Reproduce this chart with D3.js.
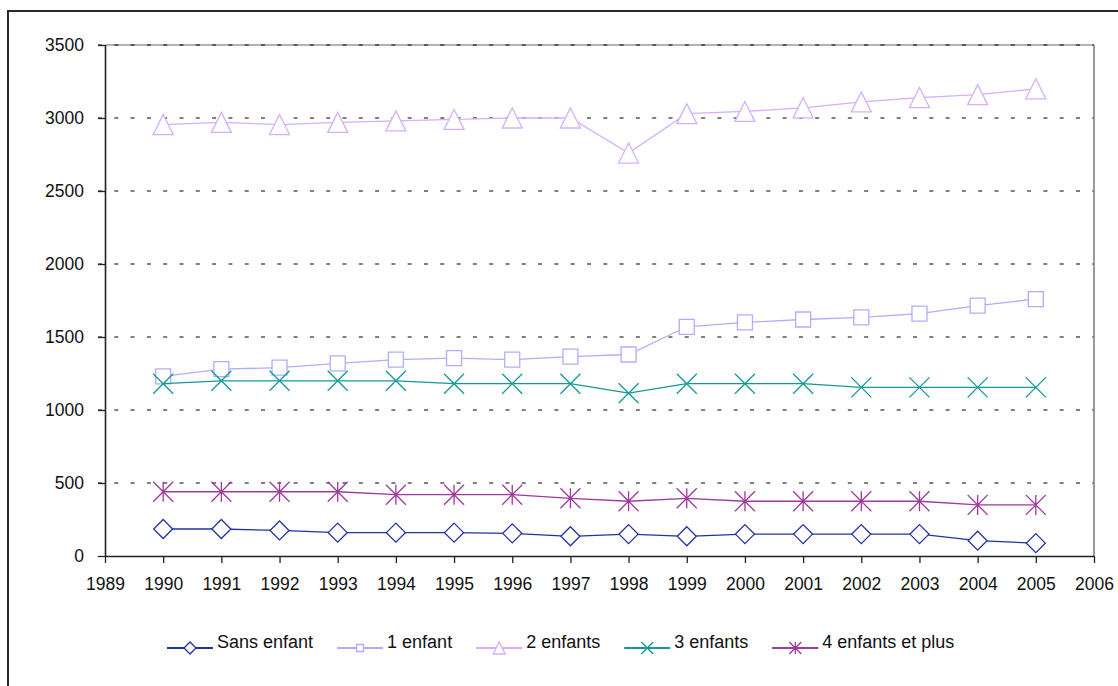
<!doctype html>
<html>
<head>
    <meta charset="UTF-8">
    <title>Enfants</title>
    <script src="https://d3js.org/d3.v7.min.js"></script>
    <style>
        body { margin: 0; background: #fff; }
        svg text { font-family: "Liberation Sans", Arial, sans-serif; fill: #111; }
    </style>
</head>
<body>
    <svg id="chart" width="1118" height="686"></svg>

    <script>
        var years = [1990, 1991, 1992, 1993, 1994, 1995, 1996, 1997, 1998, 1999, 2000, 2001, 2002, 2003, 2004, 2005];
        var xTicks = [1989, 1990, 1991, 1992, 1993, 1994, 1995, 1996, 1997, 1998, 1999, 2000, 2001, 2002, 2003, 2004, 2005, 2006];
        var yTicks = [0, 500, 1000, 1500, 2000, 2500, 3000, 3500];

        var seriesNames = ["Sans enfant", "1 enfant", "2 enfants", "3 enfants", "4 enfants et plus"];
        var sansEnfant = [185, 185, 175, 160, 160, 160, 155, 135, 150, 135, 150, 150, 150, 150, 105, 88];
        var unEnfant = [1230, 1280, 1290, 1320, 1345, 1355, 1345, 1365, 1380, 1570, 1600, 1620, 1635, 1660, 1715, 1760];
        var deuxEnfants = [2955, 2970, 2955, 2970, 2980, 2990, 3000, 3000, 2760, 3030, 3045, 3070, 3110, 3140, 3160, 3200];
        var troisEnfants = [1180, 1200, 1200, 1200, 1200, 1180, 1180, 1180, 1115, 1180, 1180, 1180, 1155, 1155, 1155, 1155];
        var quatreEnfants = [440, 440, 440, 440, 420, 420, 420, 395, 375, 395, 375, 375, 375, 375, 350, 350];

        var seriesValues = [sansEnfant, unEnfant, deuxEnfants, troisEnfants, quatreEnfants];
        var colors = ["#2233a0", "#aeaeff", "#d6aefc", "#139a98", "#a0389e"];
        var markers = ["diamond", "square", "triangle", "cross", "star"];

        var plotLeft = 105, plotRight = 1094, plotTop = 45, plotBottom = 556;

        var svg = d3.select("#chart");
        var x = d3.scaleLinear().domain([1989, 2006]).range([plotLeft, plotRight]);
        var y = d3.scaleLinear().domain([0, 3500]).range([plotBottom, plotTop]);

        // marker shapes, r = half width
        function markerPath(type, r) {
            var p = d3.path();
            if (type == "diamond") {
                p.moveTo(0, -r); p.lineTo(r, 0); p.lineTo(0, r); p.lineTo(-r, 0); p.closePath();
            } else if (type == "square") {
                p.rect(-r, -r, 2 * r, 2 * r);
            } else if (type == "triangle") {
                p.moveTo(0, -r); p.lineTo(r, r); p.lineTo(-r, r); p.closePath();
            } else if (type == "cross") {
                p.moveTo(-r, -r); p.lineTo(r, r); p.moveTo(r, -r); p.lineTo(-r, r);
            } else {
                p.moveTo(-r, -r); p.lineTo(r, r); p.moveTo(r, -r); p.lineTo(-r, r);
                p.moveTo(0, -r); p.lineTo(0, r);
            }
            return p.toString();
        }

        var markerSize = { diamond: 9.5, square: 7.5, triangle: 10, cross: 10, star: 10 };
        var legendSize = { diamond: 6, square: 3.5, triangle: 6, cross: 6, star: 6 };

        function isFilled(type) {
            return type == "diamond" || type == "square" || type == "triangle";
        }

        // outer frame
        svg.append("rect")
            .attr("x", 8).attr("y", 11)
            .attr("width", 1300).attr("height", 900)
            .attr("fill", "none").attr("stroke", "#2a2a2a").attr("stroke-width", 2);

        // grid lines
        svg.append("line")
            .attr("x1", plotLeft).attr("x2", plotRight)
            .attr("y1", y(3500)).attr("y2", y(3500))
            .attr("stroke", "#9a9a9a").attr("stroke-width", 1.5);

        svg.append("g")
            .selectAll("line")
            .data(yTicks.slice(1))
            .enter().append("line")
            .attr("x1", plotLeft - 7).attr("x2", plotRight)
            .attr("y1", function (d) { return y(d); })
            .attr("y2", function (d) { return y(d); })
            .attr("stroke", "#000")
            .attr("stroke-width", 1)
            .attr("stroke-dasharray", "4,12.3");

        // right border of plot area
        svg.append("line")
            .attr("x1", plotRight).attr("x2", plotRight)
            .attr("y1", plotTop).attr("y2", plotBottom)
            .attr("stroke", "#777").attr("stroke-width", 1.5);

        // axes
        var yAxis = d3.axisLeft(y).tickValues(yTicks).tickSize(7).tickPadding(14).tickFormat(d3.format("d"));
        var xAxis = d3.axisBottom(x).tickValues(xTicks).tickSize(7).tickPadding(15).tickFormat(d3.format("d"));

        var gy = svg.append("g").attr("transform", "translate(" + plotLeft + ",0)").call(yAxis);
        var gx = svg.append("g").attr("transform", "translate(0," + plotBottom + ")").call(xAxis);

        [gx, gy].forEach(function (g) {
            g.select(".domain").attr("stroke", "#222").attr("stroke-width", 1.6);
            g.selectAll(".tick line").attr("stroke", "#222").attr("stroke-width", 1.3);
            g.selectAll(".tick text")
                .attr("font-size", 17.5)
                .attr("font-family", "Liberation Sans, Arial, sans-serif")
                .attr("fill", "#111");
        });
        gy.select(".domain").attr("d", "M0.5," + plotBottom + "V" + plotTop);
        gx.select(".domain").attr("d", "M" + plotLeft + ",0.5H" + plotRight);

        // series
        var line = d3.line()
            .x(function (d, i) { return x(years[i]); })
            .y(function (d) { return y(d); });

        seriesValues.forEach(function (vals, s) {
            var g = svg.append("g");
            g.append("path")
                .attr("d", line(vals))
                .attr("fill", "none")
                .attr("stroke", colors[s])
                .attr("stroke-width", 1.3);

            g.selectAll("path.marker")
                .data(vals)
                .enter().append("path")
                .attr("class", "marker")
                .attr("transform", function (d, i) { return "translate(" + x(years[i]) + "," + y(d) + ")"; })
                .attr("d", markerPath(markers[s], markerSize[markers[s]]))
                .attr("fill", isFilled(markers[s]) ? "#fff" : "none")
                .attr("stroke", colors[s])
                .attr("stroke-width", 1.3);
        });

        // legend
        var legend = svg.append("g").attr("transform", "translate(167,648)");
        var lx = 0;
        seriesNames.forEach(function (name, s) {
            var item = legend.append("g").attr("transform", "translate(" + lx + ",0)");
            item.append("line")
                .attr("x1", 0).attr("x2", 46)
                .attr("y1", 0).attr("y2", 0)
                .attr("stroke", colors[s]).attr("stroke-width", 2);
            item.append("path")
                .attr("transform", "translate(23,0)")
                .attr("d", markerPath(markers[s], legendSize[markers[s]]))
                .attr("fill", isFilled(markers[s]) ? "#fff" : "none")
                .attr("stroke", colors[s])
                .attr("stroke-width", 1.3);
            var t = item.append("text")
                .attr("x", 50).attr("y", 0)
                .attr("font-size", 18)
                .text(name);
            lx += 50 + t.node().getComputedTextLength() + 24;
        });
    </script>
</body>
</html>
